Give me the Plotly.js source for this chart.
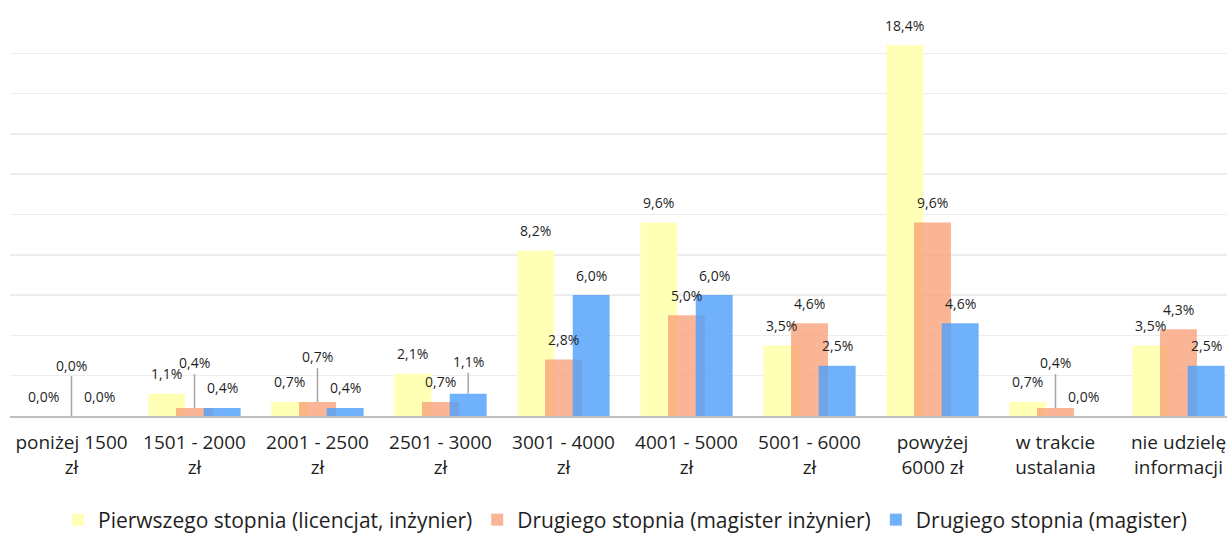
<!DOCTYPE html>
<html>
<head>
<meta charset="utf-8">
<script src="https://cdn.plot.ly/plotly-3.0.1.min.js"></script>
<style>
html, body { margin: 0; padding: 0; overflow: hidden; background: #fff; }
#chart { width: 1250px; height: 534px; }
</style>
</head>
<body>
<div id="chart"></div>
<script>
// ---- data ----
const categories = [
  "poniżej 1500<br>zł", "1501 - 2000<br>zł", "2001 - 2500<br>zł", "2501 - 3000<br>zł",
  "3001 - 4000<br>zł", "4001 - 5000<br>zł", "5001 - 6000<br>zł", "powyżej<br>6000 zł",
  "w trakcie<br>ustalania", "nie udzielę<br>informacji"
];
const seriesNames = [
  "Pierwszego stopnia (licencjat, inżynier)",
  "Drugiego stopnia (magister inżynier)",
  "Drugiego stopnia (magister)"
];
const pierwszego = [0.0, 1.1, 0.7, 2.1, 8.2, 9.6, 3.5, 18.4, 0.7, 3.5];
const drugiegoMgrInz = [0.0, 0.4, 0.7, 0.7, 2.8, 5.0, 4.6, 9.6, 0.4, 4.3];
const drugiegoMgr = [0.0, 0.4, 0.4, 1.1, 6.0, 6.0, 2.5, 4.6, 0.0, 2.5];

// ---- styling ----
const series = [pierwszego, drugiegoMgrInz, drugiegoMgr];
const colors = ['#FFFFB5', 'rgba(248,155,115,0.74)', 'rgba(80,160,250,0.82)'];
const barWidth = 0.3;
const barOffsets = [-0.375, -0.15, 0.075];
// labels lifted further with a leader line: [seriesIndex, categoryIndex, extra px]
const leaderLabels = [[1, 0, 31], [1, 1, 25], [1, 2, 25], [2, 3, 12], [1, 8, 25]];

const fontFamily = '"Open Sans", "Noto Sans", sans-serif';
const textColor = '#1f1f1f';

const idx = categories.map((_, i) => i);

const traces = series.map((vals, s) => ({
  type: 'bar',
  name: seriesNames[s],
  x: idx,
  y: vals,
  width: barWidth,
  offset: barOffsets[s],
  marker: { color: colors[s], line: { width: 0 } },
  hoverinfo: 'skip'
}));

const fmt = v => v.toFixed(1).replace('.', ',') + '%';

const annotations = [];
series.forEach((vals, s) => {
  vals.forEach((v, c) => {
    const xc = c + barOffsets[s] + barWidth / 2;
    const lead = leaderLabels.find(l => l[0] === s && l[1] === c);
    if (lead) {
      annotations.push({
        x: xc, y: v, xref: 'x', yref: 'y',
        text: fmt(v), showarrow: true, arrowhead: 0, arrowwidth: 1.5,
        arrowcolor: '#A6A6A6', ax: 0, ay: -(20 + lead[2]), standoff: 0,
        font: { family: fontFamily, size: 14, color: textColor }
      });
    } else {
      annotations.push({
        x: xc, y: v, xref: 'x', yref: 'y',
        text: fmt(v), showarrow: false, yshift: 20, yanchor: 'middle',
        font: { family: fontFamily, size: 14, color: textColor }
      });
    }
  });
});

const layout = {
  width: 1250,
  height: 534,
  margin: { l: 10, r: 10, t: 13, b: 118, autoexpand: false },
  paper_bgcolor: '#ffffff',
  plot_bgcolor: '#ffffff',
  barmode: 'overlay',
  showlegend: true,
  legend: {
    orientation: 'h', x: 0.5, xanchor: 'center',
    yref: 'container', y: 0.0262, yanchor: 'middle',
    font: { family: fontFamily, size: 21, color: textColor },
    traceorder: 'normal'
  },
  xaxis: {
    type: 'linear',
    range: [-0.5, 9.5],
    tickmode: 'array',
    tickvals: idx,
    ticktext: categories,
    showgrid: false,
    zeroline: false,
    showline: true,
    linecolor: '#BFBFBF',
    linewidth: 2,
    ticks: '',
    automargin: false,
    ticklabelstandoff: 8,
    tickfont: { family: fontFamily, size: 19, color: textColor },
    fixedrange: true
  },
  yaxis: {
    range: [0, 20],
    dtick: 2,
    showticklabels: false,
    showgrid: true,
    gridcolor: '#EDEDED',
    gridwidth: 1.5,
    zeroline: false,
    showline: false,
    ticks: '',
    automargin: false,
    fixedrange: true
  },
  annotations: annotations
};

Plotly.newPlot('chart', traces, layout, { displayModeBar: false, staticPlot: true });
</script>
</body>
</html>
